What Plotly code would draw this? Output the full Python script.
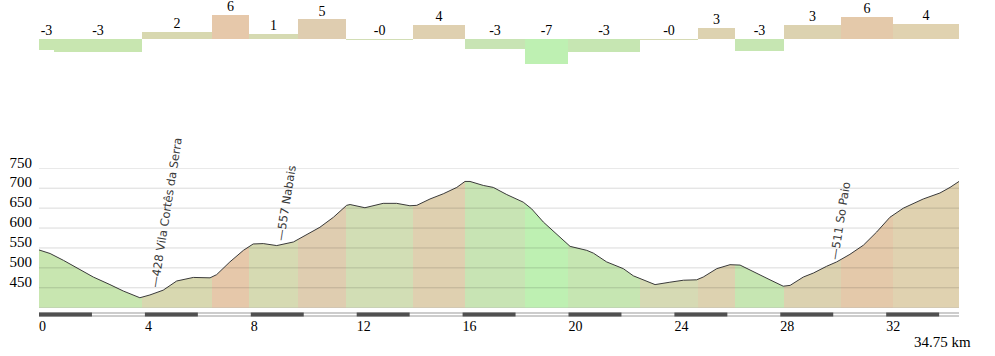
import plotly.graph_objects as go

# ---------------- data ----------------
seg_bounds_km = [0, 0.57, 3.89, 6.53, 7.93, 9.78, 11.60, 14.13, 16.09, 18.36,
                 19.98, 22.70, 24.89, 26.29, 28.14, 30.29, 32.26, 34.75]
seg_grades = [-3.0, -3.6, 2.0, 6.5, 1.3, 5.3, -0.2, 3.8, -2.8, -6.8,
              -3.4, -0.1, 3.1, -3.2, 3.7, 6.0, 4.1]
seg_labels = ["-3", "-3", "2", "6", "1", "5", "-0", "4", "-3", "-7",
              "-3", "-0", "3", "-3", "3", "6", "4"]

profile_km = [0.0, 0.42, 0.92, 1.42, 2.05, 2.68, 3.18, 3.81, 4.19, 4.69, 5.2, 5.83,
              6.46, 6.71, 7.21, 7.72, 8.09, 8.47, 8.98, 9.61, 10.11, 10.61, 11.12,
              11.62, 11.75, 12.31, 13.0, 13.51, 14.01, 14.27, 14.77, 15.27, 15.78,
              16.09, 16.28, 16.78, 17.16, 17.67, 18.29, 18.61, 19.05, 19.55, 20.06,
              20.69, 20.94, 21.44, 22.07, 22.45, 22.83, 23.27, 23.83, 24.34, 24.84,
              25.09, 25.6, 26.1, 26.48, 26.98, 27.61, 28.11, 28.37, 28.87, 29.25,
              29.75, 30.13, 30.63, 31.14, 31.64, 32.14, 32.65, 33.4, 34.03, 34.41, 34.75]
profile_elev = [545, 536, 519, 501, 477, 458, 442, 425, 432, 444, 467, 476,
                475, 483, 515, 544, 560, 561, 556, 565, 584, 602, 627,
                657, 659, 651, 662, 662, 656, 657, 673, 686, 702,
                717, 717, 707, 702, 684, 665, 648, 615, 586, 554,
                544, 537, 515, 498, 480, 469, 458, 464, 469, 470,
                477, 498, 508, 507, 490, 470, 454, 456, 477, 487,
                504, 515, 534, 557, 590, 627, 650, 673, 688, 702, 717]

place_names = ["Vila Cortês da Serra", "Nabais", "So Paio"]
place_km = [4.22, 9.03, 29.98]
place_elev = [428, 557, 511]

y_ticks = [450, 500, 550, 600, 650, 700, 750]
x_ticks = [0, 4, 8, 12, 16, 20, 24, 28, 32]
total_km = 34.75

# ---------------- styles ----------------
SEG_COLORS = ["#c8e6b0", "#c8e6b0", "#d8d8b0", "#e6c8aa", "#d6dab2", "#dfcdb0",
              "#d2deb5", "#dfd0b0", "#c8e4b4", "#bef0b2", "#c6e6b2", "#d6dab4",
              "#ddd2b0", "#c6e6b2", "#dcd2b0", "#e4c9aa", "#e0d2b0"]
LABEL_SHIFT_PX = [(15, 84), (8, 42), (8, 43)]
W, H = 995, 356
PL, PR = 39, 959


def py(px):
    return (H - px) / H


SERIF = "Liberation Serif, Times New Roman, serif"

mids = [(a + b) / 2 for a, b in zip(seg_bounds_km[:-1], seg_bounds_km[1:])]
widths = [b - a for a, b in zip(seg_bounds_km[:-1], seg_bounds_km[1:])]

fig = go.Figure()

# gradient bars
fig.add_trace(go.Bar(x=mids, y=seg_grades, width=widths, base=0,
                     marker=dict(color=SEG_COLORS, line=dict(width=0)),
                     xaxis="x", yaxis="y", hoverinfo="skip", showlegend=False))
fig.add_trace(go.Scatter(x=mids, y=[max(g, 0) + 2.0 for g in seg_grades],
                         text=seg_labels, mode="text", textposition="middle center",
                         textfont=dict(family=SERIF, size=14, color="#000"),
                         xaxis="x", yaxis="y", hoverinfo="skip", showlegend=False,
                         cliponaxis=False))

# elevation profile with per-segment fill colours
cs = []
span = seg_bounds_km[-1] - seg_bounds_km[0]
for i, c in enumerate(SEG_COLORS):
    a = (seg_bounds_km[i] - seg_bounds_km[0]) / span
    b = (seg_bounds_km[i + 1] - seg_bounds_km[0]) / span
    cs.append([a, c])
    cs.append([b, c])
fig.add_trace(go.Scatter(x=profile_km, y=profile_elev, mode="lines",
                         line=dict(color="#3a3a3a", width=1),
                         fill="tozeroy",
                         fillgradient=dict(type="horizontal", colorscale=cs,
                                           start=seg_bounds_km[0], stop=seg_bounds_km[-1]),
                         xaxis="x2", yaxis="y2", hoverinfo="skip", showlegend=False))

shapes = []
# grid lines (drawn over the fill)
for v in [400] + y_ticks:
    shapes.append(dict(type="line", xref="x2 domain", yref="y2", x0=0, x1=1, y0=v, y1=v,
                       line=dict(color="rgba(0,0,0,0.15)", width=1), layer="above"))
# scale bar
y_top, y_bot = py(312.5), py(316.5)
shapes.append(dict(type="rect", xref="x2", yref="paper", x0=0, x1=total_km, y0=y_bot, y1=y_top,
                   fillcolor="#9a9a9a", line=dict(width=0), layer="above"))
shapes.append(dict(type="rect", xref="x2", yref="paper", x0=0, x1=total_km,
                   y0=py(315.5), y1=py(313.5), fillcolor="#ffffff", line=dict(width=0), layer="above"))
k = 0
while k < total_km:
    shapes.append(dict(type="rect", xref="x2", yref="paper", x0=k, x1=min(k + 2, total_km),
                       y0=y_bot, y1=y_top, fillcolor="#505050", line=dict(width=0), layer="above"))
    k += 4

annotations = []
for name, km, el, (dx, dy) in zip(place_names, place_km, place_elev, LABEL_SHIFT_PX):
    annotations.append(dict(x=km, y=el, xref="x2", yref="y2", text=f"\u2014{el} {name}",
                            showarrow=False, textangle=-81, xanchor="center", yanchor="middle",
                            xshift=dx, yshift=dy,
                            font=dict(family="DejaVu Sans, Verdana, sans-serif", size=11.5,
                                      color="#3a3a3a")))
annotations.append(dict(x=(973 - PL) / (PR - PL), y=py(341.5), xref="paper", yref="paper",
                        text=f"{total_km} km", showarrow=False, xanchor="right", yanchor="middle",
                        font=dict(family=SERIF, size=15, color="#000")))

top_hi = 39 / 3.7
top_lo = -(80 - 39) / 3.7

fig.update_layout(
    width=W, height=H,
    margin=dict(l=PL, r=W - PR, t=0, b=0, autoexpand=False),
    paper_bgcolor="white", plot_bgcolor="rgba(0,0,0,0)",
    showlegend=False,
    xaxis=dict(domain=[0, 1], range=[0, total_km], visible=False, anchor="y", automargin=False),
    yaxis=dict(domain=[py(80), 1], range=[top_lo, top_hi], visible=False, anchor="x",
               automargin=False),
    xaxis2=dict(domain=[0, 1], range=[0, total_km], anchor="y2", tickvals=x_ticks,
                ticks="", showgrid=False, zeroline=False, showline=False, automargin=False,
                ticklabelposition="outside right", ticklabelstandoff=8,
                tickfont=dict(family=SERIF, size=14, color="#000")),
    yaxis2=dict(domain=[py(307.7), py(168.3)], range=[400, 750], anchor="x2",
                tickvals=y_ticks, ticks="", showgrid=False, zeroline=False, showline=False,
                automargin=False,
                ticklabelposition="outside", ticklabelshift=-6, ticklabelstandoff=6,
                tickfont=dict(family=SERIF, size=15, color="#000")),
    shapes=shapes,
    annotations=annotations,
    bargap=0,
)

fig.write_html("out.html", config={"displayModeBar": False},
               post_script="document.body.style.margin='0px';")
